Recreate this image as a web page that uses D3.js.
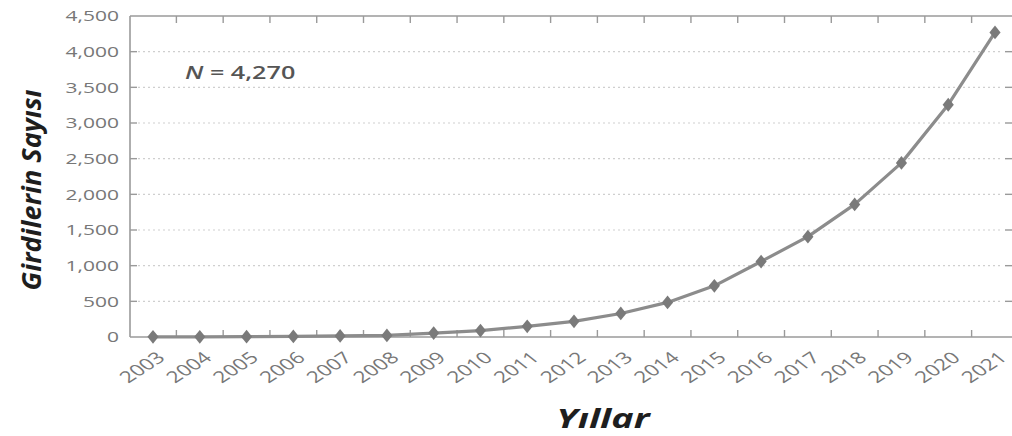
<!DOCTYPE html>
<html>
<head>
<meta charset="utf-8">
<script src="https://cdn.jsdelivr.net/npm/d3@7"></script>
<style>
  html, body { margin: 0; padding: 0; background: #fff; }
  svg { display: block; }
  text { font-family: "Open Sans", "Noto Sans", sans-serif; }
</style>
</head>
<body>
<svg id="chart" width="1012" height="436"></svg>
<script>
const years = ["2003","2004","2005","2006","2007","2008","2009","2010","2011","2012","2013","2014","2015","2016","2017","2018","2019","2020","2021"];
const counts = [2, 3, 5, 8, 15, 22, 55, 90, 150, 220, 330, 485, 717, 1058, 1407, 1859, 2441, 3256, 4270];
const yTicks = [0, 500, 1000, 1500, 2000, 2500, 3000, 3500, 4000, 4500];
const yTitle = "Girdilerin Sayısı";
const xTitle = "Yıllar";
const nLabel = "4,270";

const svg = d3.select("#chart");
const mLeft = 130, mRight = 1012, mTop = 16, mBottom = 337;
const sx = 1.4; // horizontal stretch of the reference

const x = d3.scalePoint().domain(years).range([153, 995]);
const y = d3.scaleLinear().domain([0, 4500]).range([mBottom, mTop]);
const step = x.step();

const axisColor = "#9a9a9a";
const labelColor = "#777777";
const inner = yTicks.filter(d => d > 0 && d < 4500);

// gridlines
svg.append("g").selectAll("line").data(inner).join("line")
  .attr("x1", mLeft + 8).attr("x2", 1000)
  .attr("y1", d => y(d)).attr("y2", d => y(d))
  .attr("stroke", "#cfcfcf").attr("stroke-width", 1.2).attr("stroke-dasharray", "2,3");

// frame lines
svg.append("line").attr("x1", mLeft).attr("x2", mRight).attr("y1", y(4500)).attr("y2", y(4500))
  .attr("stroke", axisColor).attr("stroke-width", 1.6);
svg.append("line").attr("x1", mLeft).attr("x2", mRight).attr("y1", y(0)).attr("y2", y(0))
  .attr("stroke", axisColor).attr("stroke-width", 1.6);
svg.append("line").attr("x1", mLeft).attr("x2", mLeft).attr("y1", y(4500)).attr("y2", y(0))
  .attr("stroke", axisColor).attr("stroke-width", 1.6);

// x ticks at midpoints (top and bottom)
const mids = years.slice(0, -1).map(d => x(d) + step / 2);
svg.append("g").selectAll("line").data(mids).join("line")
  .attr("x1", d => d).attr("x2", d => d).attr("y1", y(0)).attr("y2", y(0) - 7)
  .attr("stroke", axisColor).attr("stroke-width", 1.4);
svg.append("g").selectAll("line").data(mids).join("line")
  .attr("x1", d => d).attr("x2", d => d).attr("y1", y(4500)).attr("y2", y(4500) + 7)
  .attr("stroke", axisColor).attr("stroke-width", 1.4);

// y ticks left (inward) and right
svg.append("g").selectAll("line").data(inner).join("line")
  .attr("x1", mLeft).attr("x2", mLeft + 7).attr("y1", d => y(d)).attr("y2", d => y(d))
  .attr("stroke", axisColor).attr("stroke-width", 1.4);
svg.append("g").selectAll("line").data(inner).join("line")
  .attr("x1", 1005).attr("x2", 1012).attr("y1", d => y(d)).attr("y2", d => y(d))
  .attr("stroke", axisColor).attr("stroke-width", 1.4);

// y tick labels
const fmt = d3.format(",");
svg.append("g").selectAll("text").data(yTicks).join("text")
  .attr("transform", d => `translate(119,${y(d)}) scale(${sx},1)`)
  .attr("dy", "0.36em").attr("text-anchor", "end")
  .attr("font-size", 15).attr("fill", labelColor)
  .text(d => fmt(d));

// x tick labels
svg.append("g").selectAll("text").data(years).join("text")
  .attr("transform", d => `translate(${x(d) + 8},${y(0) + 18}) scale(${sx},1) rotate(-42)`)
  .attr("dy", "0.35em").attr("text-anchor", "end")
  .attr("font-size", 16).attr("fill", labelColor)
  .text(d => d);

// line
const line = d3.line().x((d, i) => x(years[i])).y(d => y(d));
svg.append("path").datum(counts).attr("d", line)
  .attr("fill", "none").attr("stroke", "#8c8c8c").attr("stroke-width", 3.2)
  .attr("stroke-linejoin", "round");

// markers
const diamond = d3.symbol().type(d3.symbolDiamond).size(55);
svg.append("g").selectAll("path").data(counts).join("path")
  .attr("d", diamond)
  .attr("transform", (d, i) => `translate(${x(years[i])},${y(d)}) scale(${sx},1)`)
  .attr("fill", "#7a7a7a");

// N label
const nt = svg.append("text")
  .attr("transform", `translate(185,79) scale(${sx},1)`)
  .attr("font-size", 18).attr("font-weight", 600).attr("fill", "#555");
nt.append("tspan").attr("font-style", "italic").text("N");
nt.append("tspan").text(" = " + nLabel);

// axis titles
svg.append("text")
  .attr("transform", `translate(41,190) rotate(-90)`)
  .attr("text-anchor", "middle").attr("font-size", 27)
  .attr("font-weight", "bold").attr("font-style", "italic").attr("fill", "#1e1e1e")
  .text(yTitle);

svg.append("text")
  .attr("transform", `translate(603,428) scale(${sx},1)`)
  .attr("text-anchor", "middle").attr("font-size", 27)
  .attr("font-weight", "bold").attr("font-style", "italic").attr("fill", "#1e1e1e")
  .text(xTitle);
</script>
</body>
</html>
